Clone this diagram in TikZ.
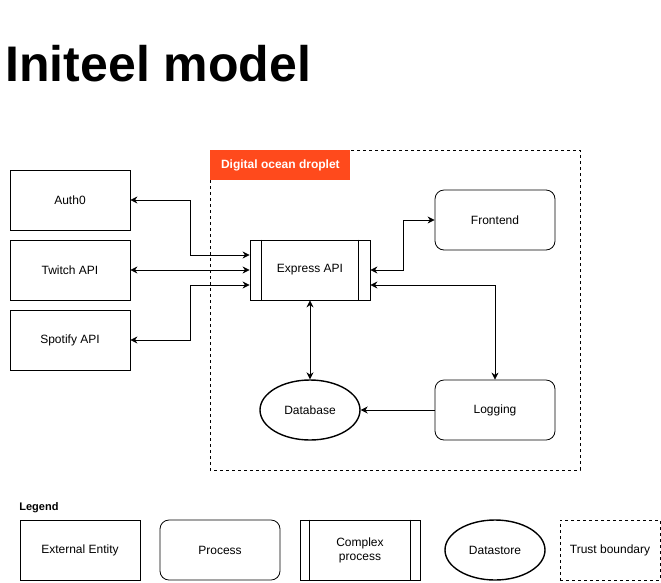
\documentclass[tikz,border=0pt]{standalone}
\usepackage{fontspec}
\setmainfont{Liberation Sans}
\usetikzlibrary{positioning,calc,arrows.meta,shapes.geometric}

\definecolor{droplet}{RGB}{255,74,28}

\tikzset{
  every node/.style={font=\fontsize{12}{14}\selectfont},
  extbox/.style={draw, rectangle, minimum width=120pt, minimum height=60pt, inner sep=0pt},
  procbox/.style={extbox, rounded corners=9pt},
  storebox/.style={draw, ellipse, line width=1.4pt, minimum width=100pt, minimum height=60pt, inner sep=0pt},
  trustbox/.style={draw, dashed},
  flow/.style={-{Stealth[length=7pt,width=7pt]}},
  dflow/.style={{Stealth[length=7pt,width=7pt]}-{Stealth[length=7pt,width=7pt]}}
}

\begin{document}
\begin{tikzpicture}[x=1pt,y=-1pt,line width=0.8pt]
  \useasboundingbox (0,0) rectangle (661,582);

  % title
  \node[anchor=base west, inner sep=0pt, font=\fontsize{50}{56}\selectfont\bfseries] (title) at (5,81) {Initeel model};

  % trust boundary
  \draw[trustbox] (210,150) rectangle (580,470);
  \node[fill=droplet, text=white, font=\fontsize{12}{14}\selectfont\bfseries, anchor=north west,
        minimum width=140pt, minimum height=30pt, inner sep=0pt] (droplet) at (210,150) {Digital ocean droplet};

  % external entities
  \node[extbox] (auth) at (70,200) {Auth0};
  \node[extbox] (twitch) at (70,270) {Twitch API};
  \node[extbox] (spotify) at (70,340) {Spotify API};

  % processes
  \node[extbox] (express) at (310,270) {Express API};
  \node[procbox] (frontend) at (495,220) {Frontend};
  \node[procbox] (logging) at (495,410) {Logging};
  \node[storebox] (db) at (310,410) {Database};

  % flows
  \draw[dflow] (auth.east) -- ++(60,0) |- ([yshift=15pt]express.west);
  \draw[dflow] (twitch.east) -- (express.west);
  \draw[dflow] (spotify.east) -- ++(60,0) |- ([yshift=-15pt]express.west);
  \draw[dflow] (express.east) -- ++(33,0) |- (frontend.west);
  \draw[dflow] ([yshift=-15pt]express.east) -| (logging.north);
  \draw[dflow] (express.south) -- (db.north);
  \draw[flow] (logging.west) -- (db.east);

  % legend
  \node[anchor=base west, inner sep=0pt, font=\fontsize{11}{13}\selectfont\bfseries] (legend) at (19,510) {Legend};
  \node[extbox] (legext) at (80,550) {External Entity};
  \node[procbox] (legproc) at (220,550) {Process};
  \node[extbox, align=center] (legcomplex) at (360,550) {Complex\\process};
  \node[storebox] (legstore) at (495,550) {Datastore};
  \node[extbox, dashed, minimum width=100pt] (legtrust) at (610,550) {Trust boundary};

  % complex process side bars
  \foreach \n/\w in {express/12, legcomplex/10}{
    \draw ([xshift=\w pt]\n.north west) -- ([xshift=\w pt]\n.south west);
    \draw ([xshift=-\w pt]\n.north east) -- ([xshift=-\w pt]\n.south east);
  }
\end{tikzpicture}
\end{document}
